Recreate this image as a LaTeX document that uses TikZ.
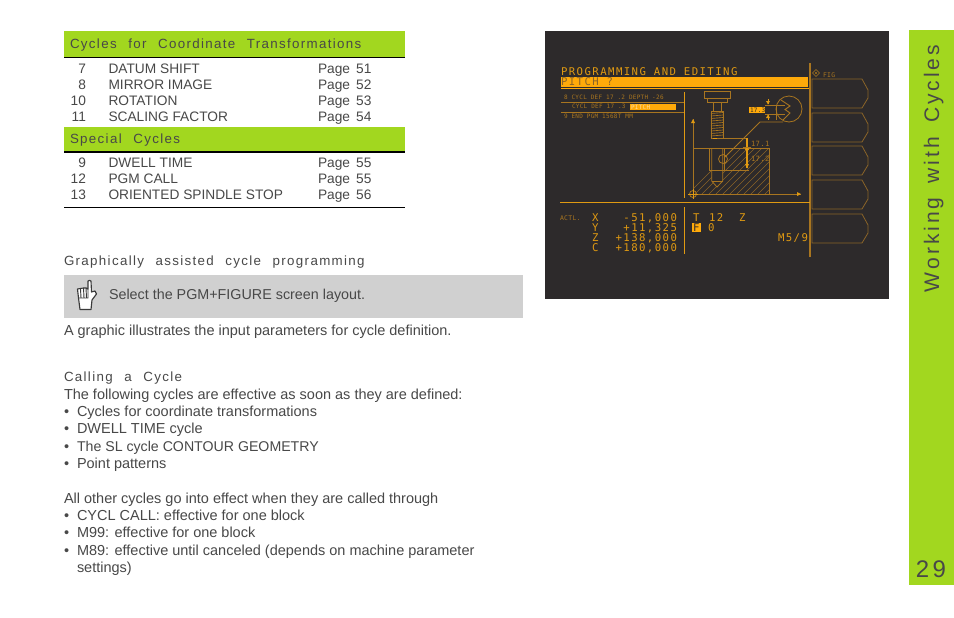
\documentclass[tikz,border=0pt]{standalone}
\usepackage{fontspec}
\setmainfont{Liberation Sans}
\newfontfamily\hdfont[LetterSpace=10,WordSpace=2.3]{Liberation Sans}
\newfontfamily\pgfont[WordSpace=1.6]{Liberation Sans}
\newfontfamily\sidefont[LetterSpace=14,WordSpace=1.6]{Liberation Sans}
\newfontfamily\scrfont[LetterSpace=13.5]{DejaVu Sans Mono}
\newfontfamily\scrsmall[LetterSpace=5]{DejaVu Sans Mono}
\definecolor{barG}{HTML}{A2D71F}
\definecolor{boxG}{HTML}{D0D0D0}
\definecolor{ink}{HTML}{484848}
\definecolor{scr}{HTML}{2D2A2B}
\definecolor{orA}{HTML}{FFAA0A}
\definecolor{orB}{HTML}{E09A12}
\definecolor{orC}{HTML}{A87520}
\definecolor{orD}{HTML}{8A6428}
\newcommand{\bodyfs}{\fontsize{10.87pt}{12pt}\selectfont}
\newcommand{\capfs}{\fontsize{10.3pt}{12pt}\selectfont}
\newcommand{\hdfs}{\hdfont\fontsize{10pt}{12pt}\selectfont}
\newcounter{tn}
\newcommand{\Tx}[4][]{\stepcounter{tn}\node[txt,#1] (t\thetn) at (#2,#3) {#4};}
\tikzset{
  txt/.style={inner sep=0pt,outer sep=0pt,anchor=base west,text=ink,font=\bodyfs},
  rtx/.style={anchor=base east},
  hd/.style={font=\hdfs},
  cp/.style={font=\capfs},
  pg/.style={font=\pgfont\capfs},
  big/.style={font=\scrfont\fontsize{8pt}{9pt}\selectfont,text=orB},
  sm/.style={font=\scrsmall\fontsize{4.5pt}{5pt}\selectfont,text=orC},
  softkey/.style={draw=orD,line width=0.6pt},
  fig/.style={draw=orC,line width=0.6pt},
  figb/.style={draw=orB,line width=0.7pt},
}
\begin{document}
\begin{tikzpicture}[x=0.75pt,y=-0.75pt]
\useasboundingbox (0,0) rectangle (954,618);
\fill[white] (0,0) rectangle (954,618);
% table
\fill[barG] (64,31) rectangle (405,57);
\fill[barG] (64,127) rectangle (405,151.5);
\draw[black,line width=0.9pt] (64,57.5) -- (405,57.5);
\draw[black,line width=0.9pt] (64,152) -- (405,152);
\draw[black,line width=0.6pt] (64,207.5) -- (405,207.5);
\Tx[hd]{70}{48}{Cycles for Coordinate Transformations}
\Tx[hd]{70}{143}{Special Cycles}
\Tx[cp,rtx]{86}{73}{7}\Tx[cp]{108.5}{73}{DATUM SHIFT}\Tx[pg]{318}{73}{Page 51}
\Tx[cp,rtx]{86}{89}{8}\Tx[cp]{108.5}{89}{MIRROR IMAGE}\Tx[pg]{318}{89}{Page 52}
\Tx[cp,rtx]{86}{105}{10}\Tx[cp]{108.5}{105}{ROTATION}\Tx[pg]{318}{105}{Page 53}
\Tx[cp,rtx]{86}{121}{11}\Tx[cp]{108.5}{121}{SCALING FACTOR}\Tx[pg]{318}{121}{Page 54}
\Tx[cp,rtx]{86}{167}{9}\Tx[cp]{108.5}{167}{DWELL TIME}\Tx[pg]{318}{167}{Page 55}
\Tx[cp,rtx]{86}{183}{12}\Tx[cp]{108.5}{183}{PGM CALL}\Tx[pg]{318}{183}{Page 55}
\Tx[cp,rtx]{86}{199}{13}\Tx[cp]{108.5}{199}{ORIENTED SPINDLE STOP}\Tx[pg]{318}{199}{Page 56}
% body
\Tx[hd]{64}{265}{Graphically assisted cycle programming}
\fill[boxG] (64,275) rectangle (523,318);
\Tx[font=\fontsize{10.75pt}{12pt}\selectfont]{109}{299}{Select the PGM+FIGURE screen layout.}
% hand
\draw[ink!80!black,line width=0.85pt,fill=white,line join=round]
  (78.5,298) -- (77.5,289) to[bend left=40] (80.5,288.5) to[bend left=40] (83.5,288)
  to[bend left=40] (86,288) to[bend left=40] (88,289) -- (88,281) to[bend left=50] (91,281)
  -- (91.5,292) -- (95,291) to[bend left=20] (96.5,294) -- (92,300) -- (91,309.5) -- (80,309.5) -- cycle;
\draw[ink!80!black,line width=0.7pt] (80.5,289) -- (81,297.5) (83.5,288) -- (84,297.5) (86,288) -- (86.5,297.5) (78.5,298) -- (88,298) -- (88,289);
\Tx{64}{335}{A graphic illustrates the input parameters for cycle definition.}
\Tx[hd]{64}{381}{Calling a Cycle}
\Tx{64}{399}{The following cycles are effective as soon as they are defined:}
\Tx{64}{416}{•}\Tx{77}{416}{Cycles for coordinate transformations}
\Tx{64}{433}{•}\Tx{77}{433}{DWELL TIME cycle}
\Tx{64}{451}{•}\Tx[font=\fontsize{10.62pt}{12pt}\selectfont]{77}{451}{The SL cycle CONTOUR GEOMETRY}
\Tx{64}{468}{•}\Tx{77}{468}{Point patterns}
\Tx{64}{503}{All other cycles go into effect when they are called through}
\Tx{64}{520}{•}\Tx{77}{520}{CYCL CALL: effective for one block}
\Tx{64}{537}{•}\Tx{77}{537}{M99: effective for one block}
\Tx{64}{555}{•}\Tx{77}{555}{M89: effective until canceled (depends on machine parameter}
\Tx{77}{572}{settings)}
% side band
\fill[barG] (909,30) rectangle (954,585);
\Tx[rotate=90,font=\sidefont\fontsize{15.8pt}{20pt}\selectfont]{939}{292}{Working with Cycles}
\Tx[font=\sidefont\fontsize{18pt}{20pt}\selectfont,anchor=base]{931}{577}{29}
% screen
\fill[scr] (545,31) rectangle (889,299);
\Tx[big]{561}{75}{PROGRAMMING AND EDITING}
\fill[orA] (561,77.3) rectangle (808,86.7);
\Tx[big,text=orD]{561}{85.7}{PITCH ?}
\draw[orA,line width=0.8pt] (561,88.5) -- (810,88.5);
\draw[orC,line width=1.5pt] (810,63) -- (810,257);
\Tx[sm]{564}{99.5}{8 CYCL DEF 17 .2 DEPTH -26}
\draw[orC,line width=0.6pt] (561,102.5) -- (684,102.5);
\Tx[sm]{572}{108.7}{CYCL DEF 17 .3}
\fill[orA] (630,104) rectangle (676,110);
\Tx[sm,text=orA!40!white]{631}{109}{PITCH}
\draw[orC,line width=0.6pt] (561,112.5) -- (684,112.5);
\Tx[sm]{564}{118}{9 END PGM 1568T MM}
\draw[orB,line width=0.7pt] (684,92) -- (684,198);
\draw[orB,line width=0.8pt] (560,202.7) -- (810,202.7);
\draw[orB,line width=0.7pt] (684,207) -- (684,254);
% soft keys
\foreach \k/\yy in {a/79,b/113,c/146,d/180,e/214}{
  \draw[softkey] (812,\yy) -- (862,\yy) -- (868,\yy+11) -- (868,\yy+19) -- (862,\yy+29) -- (812,\yy+29) -- cycle;
}
\draw[orC,line width=0.5pt] (816,69.5) -- (819.5,73) -- (816,76.5) -- (812.5,73) -- cycle;
\fill[orC] (816,73) circle (1.1);
\Tx[sm,font=\scrsmall\fontsize{4.8pt}{5pt}\selectfont]{823}{77}{FIG}
% figure: hatching
\begin{scope}
  \clip (693,148) rectangle (769,194);
  \foreach \i in {0,7,...,133}{ \draw[orD,line width=0.45pt] (686+\i,196) -- (686+\i+50,146); }
\end{scope}
\fill[scr] (709.5,148.4) -- (724.7,148.4) -- (724.7,170) -- (722.7,170) -- (722.7,181) -- (717,187) -- (711.7,181) -- (711.7,170) -- (709.5,170) -- cycle;
\draw[fig] (693,148) rectangle (769,194);
\draw[fig] (709.3,148) -- (709.3,170) -- (749,170);
\draw[fig] (711.7,148) -- (711.7,181) -- (717,187) -- (722.7,181) -- (722.7,148);
\draw[fig] (724.7,148) -- (724.7,170);
\draw[fig] (711.7,181) -- (722.7,181);
% tool
\draw[fig] (704,91) rectangle (730,98);
\draw[fig] (707,98) rectangle (727,102);
\draw[fig] (713,102) -- (713,111) (721,102) -- (721,111);
\draw[fig] (711,111) rectangle (723,138);
\foreach \yy in {112.5,115,...,137}{ \draw[orC,line width=0.5pt] (711,\yy+1) -- (723,\yy); }
\draw[orB,line width=1pt] (713,138.3) -- (721,138.3);
\draw[fig] (717,138) -- (747,138);
% axes
\coordinate (org) at (693,194);
\coordinate (ay) at (693,119);
\coordinate (ax) at (801,194);
\draw[orC,line width=0.7pt] (org) -- (ay);
\draw[orC,line width=0.7pt] (org) -- (ax);
\fill[orB] (ay) -- (691,123) -- (695,123) -- cycle;
\fill[orB] (ax) -- (797,192) -- (797,196) -- cycle;
\draw[orC,line width=0.6pt] (org) circle (3.5);
\draw[orB,line width=0.6pt] (688,194) -- (698,194) (693,189) -- (693,199);
% dimension 17.1 / 17.2
\draw[orB,line width=0.9pt] (747,138) -- (747,168);
\fill[orB] (747,144) -- (745,150) -- (749,150) -- cycle;
\fill[orB] (747,168.5) -- (745,164) -- (749,164) -- cycle;
\draw[orC,line width=0.6pt] (743,147.5) -- (751,147.5);
\Tx[sm,font=\scrsmall\fontsize{5.4pt}{6pt}\selectfont]{751}{146}{17.1}
\Tx[sm,font=\scrsmall\fontsize{5.4pt}{6pt}\selectfont]{751}{161}{17.2}
% detail
\draw[fig] (789,109) circle (13);
\draw[fig] (776.7,105) -- (776.7,120);
\draw[fig] (765,105) -- (785,105) (765,114) -- (785,114);
\draw[orC,line width=0.7pt,line join=miter] (781,100) -- (790,106) -- (785,109.5) -- (790,113) -- (783,120);
\draw[orC,line width=0.6pt] (783,122) -- (760,122) -- (725,157);
\draw[orC,line width=0.6pt] (723,159) circle (4.5);
\fill[orA] (749,107) rectangle (765,113);
\Tx[sm,text=scr,font=\scrsmall\fontsize{4.5pt}{5pt}\selectfont]{750}{112}{17.3}
\fill[orB] (768,104.5) -- (766,101) -- (770,101) -- cycle;
\draw[orB,line width=0.7pt] (768,99) -- (768,104);
\fill[orB] (768,114.5) -- (766,118) -- (770,118) -- cycle;
\draw[orB,line width=0.7pt] (768,115) -- (768,120);
% status
\Tx[sm,font=\scrsmall\fontsize{4.8pt}{5pt}\selectfont]{560}{220}{ACTL.}
\Tx[big]{592}{221}{X}\Tx[big,rtx]{677}{221}{-51,000}
\Tx[big]{592}{231}{Y}\Tx[big,rtx]{677}{231}{+11,325}
\Tx[big]{592}{241}{Z}\Tx[big,rtx]{677}{241}{+138,000}
\Tx[big]{592}{251}{C}\Tx[big,rtx]{677}{251}{+180,000}
\Tx[big]{693}{221}{T}\Tx[big]{709}{221}{12}\Tx[big]{739}{221}{Z}
\fill[orA] (692,223) rectangle (700.5,232);
\Tx[big,text=scr]{693}{231}{F}
\Tx[big]{708}{231}{0}
\Tx[big]{778}{241}{M5/9}
\end{tikzpicture}
\end{document}
